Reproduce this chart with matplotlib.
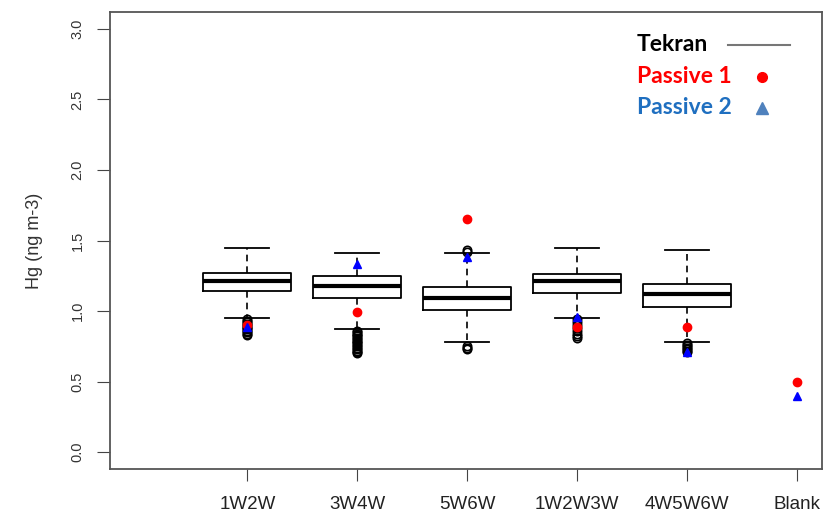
import matplotlib
matplotlib.use("Agg")
import matplotlib.pyplot as plt
from matplotlib.lines import Line2D

# Tekran boxplot stats per sampling period (ng m-3)
labels = ["1W2W", "3W4W", "5W6W", "1W2W3W", "4W5W6W", "Blank"]
whislo = [0.95, 0.87, 0.78, 0.95, 0.78]
q1 = [1.14, 1.09, 1.01, 1.13, 1.03]
med = [1.21, 1.18, 1.09, 1.21, 1.12]
q3 = [1.27, 1.25, 1.17, 1.26, 1.19]
whishi = [1.45, 1.41, 1.41, 1.45, 1.43]
fliers = [
    [0.94, 0.93, 0.92, 0.91, 0.90, 0.89, 0.88, 0.87, 0.86, 0.85, 0.84, 0.83],
    [0.86, 0.85, 0.84, 0.83, 0.82, 0.81, 0.80, 0.79, 0.78, 0.77, 0.76,
     0.75, 0.74, 0.73, 0.72, 0.71, 0.70],
    [1.43, 1.42, 0.75, 0.74, 0.73],
    [0.94, 0.92, 0.90, 0.88, 0.86, 0.84, 0.82, 0.81],
    [0.77, 0.76, 0.75, 0.74, 0.73, 0.72, 0.71],
]

# passive samplers (one value per period, incl. blank)
passive1 = [0.90, 0.99, 1.65, 0.89, 0.89, 0.50]
passive2 = [0.89, 1.33, 1.38, 0.96, 0.71, 0.40]

fig = plt.figure(figsize=(8.3, 5.16), dpi=100)
ax = fig.add_axes([110 / 830, 47 / 516, 712 / 830, 457 / 516])

stats = []
for i in range(len(med)):
    stats.append(dict(med=med[i], q1=q1[i], q3=q3[i], whislo=whislo[i],
                      whishi=whishi[i], fliers=fliers[i]))

pos = list(range(1, len(labels) + 1))
ax.bxp(stats, positions=pos[:len(stats)], widths=0.8, capwidths=0.4,
       boxprops=dict(color="black", linewidth=1.3),
       medianprops=dict(color="black", linewidth=3),
       whiskerprops=dict(color="black", linewidth=1.2, linestyle=(0, (4, 3))),
       capprops=dict(color="black", linewidth=1.3),
       flierprops=dict(marker="o", markerfacecolor="none", markeredgecolor="black",
                       markersize=6, markeredgewidth=1.2))

ax.plot(pos, passive1, "o", color="red", markersize=6, linestyle="none", zorder=5)
ax.plot(pos, passive2, "^", color="blue", markersize=6, linestyle="none", zorder=6)

ax.set_xlim(-0.25, 6.23)
ax.set_ylim(-0.12, 3.12)
ax.set_xticks(pos)
ax.set_xticklabels(labels, fontsize=13.5, family="Liberation Sans", color="#222222")
yt = [0.0, 0.5, 1.0, 1.5, 2.0, 2.5, 3.0]
ax.set_yticks(yt)
ax.set_yticklabels(["%.1f" % v for v in yt], rotation=90, va="center",
                   fontsize=10.5, family="Liberation Sans", color="#333333")
ax.tick_params(axis="y", length=9.4, pad=9, color="#444444")
ax.tick_params(axis="x", length=8.6, pad=11, color="#444444")
ax.set_ylabel("Hg (ng m-3)", fontsize=13, family="Liberation Sans", labelpad=20,
              color="#333333")
for s in ax.spines.values():
    s.set_color("#555555")
    s.set_linewidth(1.3)

# hand-made legend like the original
fnt = dict(fontsize=16.5, fontweight="bold", family="Lato", transform=ax.transAxes,
           va="center")
ax.text(0.740, 0.928, "Tekran", color="black", **fnt)
ax.text(0.740, 0.858, "Passive 1", color="red", **fnt)
ax.text(0.740, 0.790, "Passive 2", color="#1f6fc0", **fnt)
ax.add_line(Line2D([0.868, 0.955], [0.928, 0.928], color="#777777", linewidth=1.5,
                   transform=ax.transAxes))
ax.plot([0.916], [0.858], "o", color="red", markersize=7, transform=ax.transAxes)
ax.plot([0.916], [0.790], "^", color="#4f81bd", markersize=8, transform=ax.transAxes)

fig.savefig("out.png", dpi=100)
